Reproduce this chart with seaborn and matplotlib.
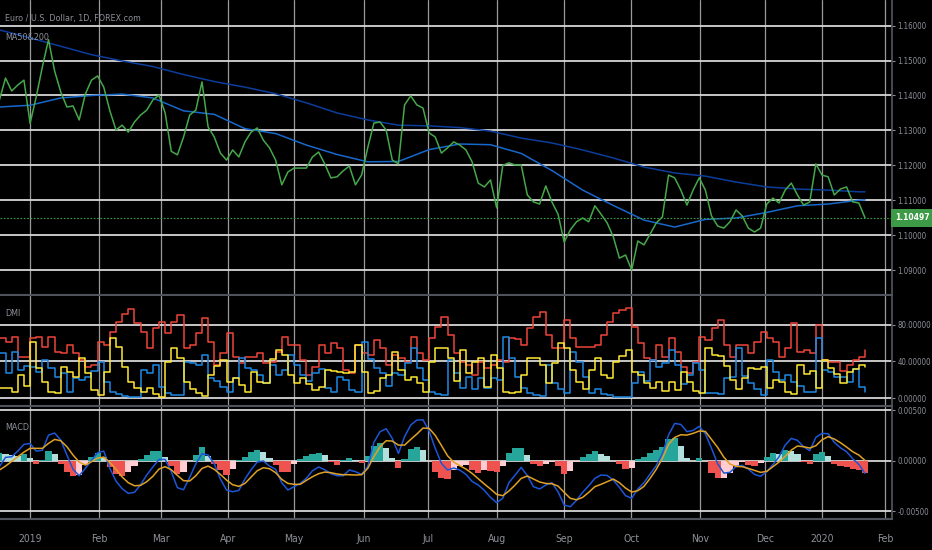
import numpy as np
import matplotlib
matplotlib.use('Agg')
import matplotlib.pyplot as plt
import matplotlib.transforms as mtransforms
from matplotlib import font_manager
import seaborn as sns

# session index (0 = first session of 2019), read every 2 sessions
bars = np.arange(-10, 273, 2)

month_pos = [0, 22.5, 42.7, 64.5, 86, 108.8, 129.6, 152, 174, 195.8, 218.2, 239.4, 258, 278.5]
month_lab = ['2019', 'Feb', 'Mar', 'Apr', 'May', 'Jun', 'Jul', 'Aug', 'Sep', 'Oct', 'Nov', 'Dec', '2020', 'Feb']

close = [1.1387, 1.1450, 1.1413, 1.1430, 1.1444, 1.1320, 1.1396, 1.1482, 1.1560, 1.1470,
         1.1410, 1.1367, 1.1370, 1.1330, 1.1404, 1.1444, 1.1456, 1.1424, 1.1356, 1.1301,
         1.1315, 1.1295, 1.1324, 1.1344, 1.1358, 1.1387, 1.1401, 1.1350, 1.1240, 1.1230,
         1.1281, 1.1344, 1.1358, 1.1439, 1.1310, 1.1281, 1.1235, 1.1215, 1.1244, 1.1224,
         1.1267, 1.1295, 1.1307, 1.1272, 1.1250, 1.1215, 1.1144, 1.1181, 1.1192,
         1.1192, 1.1192, 1.1224, 1.1238, 1.1204, 1.1164, 1.1167, 1.1184, 1.1198, 1.1144,
         1.1172, 1.1250, 1.1321, 1.1324, 1.1301, 1.1215, 1.1204, 1.1373, 1.1399, 1.1373,
         1.1364, 1.1293, 1.1281, 1.1235, 1.1250, 1.1267, 1.1258, 1.1244, 1.1210, 1.1149,
         1.1138, 1.1158, 1.1078, 1.1200, 1.1207, 1.1201, 1.1201, 1.1115, 1.1095, 1.1089,
         1.1141, 1.1095, 1.1060, 1.0980, 1.1015, 1.1038, 1.1049, 1.1038, 1.1084,
         1.1060, 1.1035, 1.0995, 1.0934, 1.0943, 1.0900, 1.0983, 1.0972, 1.1003, 1.1035,
         1.1052, 1.1172, 1.1164, 1.1129, 1.1086, 1.1129, 1.1164, 1.1129, 1.1055, 1.1026,
         1.1020, 1.1038, 1.1072, 1.1055, 1.1020, 1.1009, 1.1020, 1.1089, 1.1106, 1.1092,
         1.1129, 1.1149, 1.1115, 1.1086, 1.1095, 1.1204, 1.1172, 1.1167, 1.1115, 1.1132,
         1.1138, 1.1095, 1.1092, 1.10497]

ma_bars = [-10, 0, 10, 20, 30, 40, 50, 60, 70, 80, 90, 100, 110, 120, 130, 140, 150,
           160, 170, 180, 190, 200, 210, 220, 230, 240, 250, 260, 270, 272]
ma50 = [1.1367, 1.1372, 1.1393, 1.1400, 1.1404, 1.1393, 1.1356, 1.1346, 1.1305, 1.1291,
        1.1258, 1.1231, 1.1210, 1.1211, 1.1245, 1.1261, 1.1259, 1.1234, 1.1185, 1.1129,
        1.1085, 1.1043, 1.1023, 1.1045, 1.1049, 1.1065, 1.1084, 1.1089, 1.1100, 1.1101]
ma200 = [1.1588, 1.1565, 1.1541, 1.1517, 1.1499, 1.1483, 1.1460, 1.1440, 1.1424, 1.1405,
         1.1379, 1.1350, 1.1330, 1.1315, 1.1313, 1.1308, 1.1298, 1.1278, 1.1264, 1.1244,
         1.1221, 1.1195, 1.1178, 1.1169, 1.1152, 1.1138, 1.1132, 1.1129, 1.1124, 1.1124]

adx = [65.1, 61.5, 66.9, 45.1, 45.1, 65.1, 66.9, 56.0, 66.9, 50.6, 48.8, 57.8, 48.8, 41.5,
       34.2, 36.0, 61.5, 57.8, 72.4, 83.3, 91.3, 97.0, 82.0, 72.4, 54.2, 76.0, 83.3, 70.6,
       83.3, 90.6, 54.2, 57.8, 70.6, 86.9, 61.5, 36.0, 48.8, 70.6, 45.1, 37.8, 45.1, 45.1,
       48.8, 37.8, 39.7, 50.6, 66.9, 57.8, 57.8,
       41.5, 25.1, 34.2, 57.8, 48.8, 59.7, 54.2, 30.6, 26.9, 57.8, 48.8, 46.9, 63.3, 54.2,
       36.0, 46.9, 43.3, 39.7, 66.9, 48.8, 41.5, 65.1, 77.9, 88.8, 68.8, 48.8, 39.7, 36.0,
       25.1, 39.7, 32.4, 36.0, 41.5, 39.7, 65.1, 64.4, 57.8, 76.0, 88.8, 94.2, 68.8, 54.2,
       54.2, 85.1, 65.1, 56.0, 56.0, 56.0, 57.8,
       68.8, 83.3, 92.4, 96.0, 98.6, 77.9, 59.7, 43.3, 41.5, 57.8, 45.1, 65.1, 50.6, 34.2,
       26.9, 39.7, 66.9, 63.3, 76.0, 85.1, 57.8, 45.1, 57.8, 57.8, 48.8, 61.5, 72.4, 65.1,
       61.5, 45.1, 54.2, 81.5, 50.6, 52.4, 48.8, 79.7, 41.5, 39.7, 39.7, 29.5, 36.0, 41.5,
       45.1, 52.4]
plus_di = [48.8, 26.9, 49.8, 30.6, 34.9, 34.2, 28.7, 41.5, 32.4, 23.3, 26.9, 6.9, 21.5, 19.6,
           23.3, 29.5, 39.7, 17.1, 6.9, 4.0, 2.2, 1.5, 1.5, 30.6, 26.9, 36.0, 12.4, 5.8,
           3.3, 3.3, 38.9, 37.8, 36.0, 46.9, 21.5, 18.6, 12.4, 6.2, 21.5, 43.3, 32.4, 30.6,
           25.1, 16.0, 36.0, 25.1, 30.6, 46.9, 36.0,
           25.1, 18.6, 26.9, 31.7, 11.3, 6.2, 23.3, 19.6, 8.7, 6.9, 61.5, 42.6, 32.4, 26.9,
           13.5, 26.9, 25.1, 37.8, 54.2, 32.4, 19.6, 6.9, 4.4, 3.3, 41.5, 26.9, 11.3, 23.3,
           9.8, 21.5, 11.3, 21.5, 19.6, 66.9, 43.3, 23.3, 10.5, 5.1, 3.3, 2.2, 36.0, 16.0,
           9.8, 5.1, 50.6, 39.7, 23.3, 5.1, 9.8,
           4.7, 3.3, 1.5, 1.5, 1.5, 16.0, 28.7, 18.6, 41.5, 34.2, 37.8, 52.4, 36.0, 14.9,
           25.1, 37.8, 30.6, 5.8, 5.1, 4.0, 21.5, 23.3, 54.2, 24.4, 16.0, 9.5, 3.3, 41.5,
           28.0, 19.6, 25.1, 17.8, 13.1, 6.9, 6.9, 65.1, 30.6, 28.7, 23.3, 23.3, 17.8, 31.7,
           12.4, 6.9]
minus_di = [10.5, 11.3, 6.2, 25.1, 13.5, 61.5, 32.4, 17.1, 6.9, 5.1, 34.2, 28.7, 23.3, 43.3,
            26.9, 8.7, 3.3, 28.7, 65.1, 56.0, 34.2, 17.8, 11.3, 6.9, 10.5, 4.4, 1.5, 39.7,
            54.2, 43.3, 17.8, 9.8, 5.1, 2.5, 25.1, 35.3, 41.5, 17.8, 21.5, 14.2, 6.2, 28.0,
            17.1, 16.0, 42.6, 52.4, 46.9, 25.1, 16.0,
            21.5, 14.9, 8.7, 12.4, 30.6, 29.5, 28.7, 26.9, 28.7, 57.8, 28.7, 5.8, 8.0, 22.2,
            25.1, 50.6, 30.6, 19.6, 23.3, 16.0, 6.9, 39.7, 54.2, 54.9, 43.3, 18.6, 52.4, 26.9,
            39.7, 43.3, 11.6, 46.9, 32.4, 6.2, 5.1, 6.2, 25.1, 44.0, 43.3, 36.0, 16.0, 37.8,
            59.7, 54.2, 30.6, 17.8, 9.8, 30.6, 43.3,
            25.1, 21.5, 39.7, 46.2, 52.4, 28.7, 25.1, 16.0, 10.5, 17.1, 7.6, 17.8, 8.7, 28.0,
            17.8, 7.6, 5.1, 54.2, 46.9, 45.8, 35.3, 19.6, 9.8, 21.5, 33.1, 31.7, 34.2, 10.5,
            19.6, 17.8, 6.9, 4.0, 36.0, 25.8, 29.5, 10.5, 41.5, 32.4, 26.2, 16.0, 28.7, 31.7,
            36.0, 34.2]

macd = [-0.59e-3, 0.33e-3, 0.39e-3, 0.95e-3, 1.61e-3, 1.70e-3, 0.95e-3, 1.02e-3, 2.53e-3,
        2.73e-3, 2.04e-3, 0.56e-3, -0.85e-3, -1.48e-3, -0.76e-3, 0.03e-3, 0.79e-3, 0.95e-3,
        -0.76e-3, -2.01e-3, -2.76e-3, -3.22e-3, -3.12e-3, -2.37e-3, -1.41e-3, -0.62e-3,
        0.13e-3, 0.13e-3, -1.08e-3, -2.66e-3, -2.86e-3, -1.64e-3, -0.30e-3, 0.69e-3, 0.56e-3,
        -0.30e-3, -1.81e-3, -2.89e-3, -3.06e-3, -2.93e-3, -1.81e-3, -0.89e-3, -0.13e-3,
        -0.03e-3, -0.53e-3, -0.85e-3, -2.17e-3, -2.89e-3, -2.56e-3,
        -2.24e-3, -1.74e-3, -0.99e-3, -0.62e-3, -0.89e-3, -1.28e-3, -1.48e-3, -1.48e-3,
        -0.92e-3, -1.08e-3, -1.35e-3, -0.59e-3, 1.81e-3, 2.86e-3, 3.16e-3, 2.20e-3, 0.72e-3,
        2.37e-3, 3.52e-3, 4.01e-3, 4.04e-3, 2.93e-3, 1.22e-3, -0.26e-3, -0.92e-3, -0.72e-3,
        -0.92e-3, -1.35e-3, -2.04e-3, -2.40e-3, -2.93e-3, -3.62e-3, -4.14e-3, -3.71e-3,
        -2.17e-3, -1.41e-3, -0.66e-3, -1.48e-3, -2.56e-3, -2.79e-3, -2.40e-3, -2.17e-3,
        -3.06e-3, -4.37e-3, -4.54e-3, -3.91e-3, -3.12e-3, -2.47e-3, -1.74e-3,
        -1.41e-3, -1.45e-3, -1.91e-3, -2.63e-3, -3.45e-3, -3.71e-3, -2.79e-3, -2.17e-3,
        -1.31e-3, -0.49e-3, 0.72e-3, 2.53e-3, 3.68e-3, 3.58e-3, 2.86e-3, 2.99e-3, 3.39e-3,
        2.66e-3, 1.22e-3, -0.30e-3, -1.22e-3, -1.15e-3, -0.56e-3, -0.46e-3, -0.82e-3,
        -1.35e-3, -1.54e-3, -1.08e-3, -0.39e-3, 0.39e-3, 1.54e-3, 2.20e-3, 2.01e-3, 1.38e-3,
        0.99e-3, 2.30e-3, 2.70e-3, 2.66e-3, 1.81e-3, 1.28e-3, 0.89e-3, 0.20e-3, -0.36e-3,
        -1.25e-3]
signal = [-0.92e-3, -0.53e-3, -0.07e-3, 0.39e-3, 0.85e-3, 1.22e-3, 1.22e-3, 1.22e-3, 1.71e-3,
          2.10e-3, 1.97e-3, 1.38e-3, 0.56e-3, -0.13e-3, -0.43e-3, -0.10e-3, 0.26e-3, 0.36e-3,
          -0.16e-3, -0.85e-3, -1.61e-3, -2.17e-3, -2.47e-3, -2.43e-3, -2.07e-3, -1.54e-3,
          -0.82e-3, -0.59e-3, -0.89e-3, -1.45e-3, -1.97e-3, -2.00e-3, -1.48e-3, -0.76e-3,
          -0.53e-3, -0.85e-3, -1.35e-3, -1.91e-3, -2.37e-3, -2.53e-3, -2.24e-3, -1.61e-3,
          -0.99e-3, -0.69e-3, -0.79e-3, -1.18e-3, -1.84e-3, -2.24e-3, -2.33e-3,
          -2.33e-3, -1.94e-3, -1.58e-3, -1.28e-3, -1.12e-3, -1.18e-3, -1.31e-3, -1.38e-3,
          -1.38e-3, -1.41e-3, -1.38e-3, -0.76e-3, 0.39e-3, 1.38e-3, 1.97e-3, 1.94e-3, 1.54e-3,
          1.54e-3, 2.10e-3, 2.63e-3, 3.22e-3, 3.19e-3, 2.50e-3, 1.51e-3, 0.49e-3, -0.13e-3,
          -0.49e-3, -0.82e-3, -1.25e-3, -1.78e-3, -2.30e-3, -2.79e-3, -3.32e-3, -3.45e-3,
          -2.99e-3, -2.40e-3, -1.74e-3, -1.51e-3, -1.81e-3, -2.10e-3, -2.24e-3, -2.27e-3,
          -2.50e-3, -3.12e-3, -3.71e-3, -3.85e-3, -3.62e-3, -3.12e-3, -2.56e-3,
          -2.33e-3, -2.07e-3, -1.81e-3, -2.17e-3, -2.70e-3, -3.09e-3, -2.96e-3, -2.53e-3,
          -1.74e-3, -0.85e-3, 0.23e-3, 1.61e-3, 2.30e-3, 2.56e-3, 2.53e-3, 2.70e-3, 2.93e-3,
          2.89e-3, 2.10e-3, 1.31e-3, 0.36e-3, -0.33e-3, -0.56e-3, -0.59e-3, -0.76e-3,
          -0.95e-3, -1.15e-3, -1.05e-3, -0.59e-3, -0.13e-3, 0.43e-3, 1.05e-3, 1.45e-3,
          1.38e-3, 1.25e-3, 1.48e-3, 2.07e-3, 2.37e-3, 2.14e-3, 1.78e-3, 1.35e-3, 0.89e-3,
          0.56e-3, 0.03e-3]
hist = [0.72e-3, 0.66e-3, 0.56e-3, 0.46e-3, 0.69e-3, 0.23e-3, -0.33e-3, 0.07e-3, 0.99e-3,
        0.66e-3, -0.33e-3, -1.08e-3, -1.51e-3, -1.41e-3, -0.46e-3, 0.39e-3, 0.72e-3, 0.39e-3,
        -0.59e-3, -1.35e-3, -1.55e-3, -1.08e-3, -0.49e-3, 0.13e-3, 0.56e-3, 0.95e-3, 0.99e-3,
        0.39e-3, -0.53e-3, -1.35e-3, -1.12e-3, -0.07e-3, 0.59e-3, 1.31e-3, 0.43e-3, -0.30e-3,
        -0.95e-3, -1.41e-3, -0.82e-3, 0.03e-3, 0.36e-3, 0.82e-3, 1.02e-3, 0.89e-3, 0.23e-3,
        -0.46e-3, -1.08e-3, -1.15e-3, -0.36e-3,
        0.16e-3, 0.43e-3, 0.62e-3, 0.72e-3, 0.53e-3, -0.13e-3, -0.43e-3, 0.07e-3, 0.30e-3,
        0.03e-3, -0.23e-3, 0.49e-3, 1.45e-3, 1.78e-3, 1.22e-3, 0.23e-3, -0.76e-3, 0.16e-3,
        1.18e-3, 1.38e-3, 1.02e-3, -0.03e-3, -1.12e-3, -1.68e-3, -1.84e-3, -0.95e-3,
        -0.49e-3, -0.46e-3, -0.95e-3, -1.25e-3, -0.92e-3, -1.02e-3, -1.08e-3, -0.53e-3,
        0.79e-3, 1.22e-3, 1.28e-3, 0.56e-3, -0.30e-3, -0.49e-3, -0.33e-3, -0.13e-3, -0.53e-3,
        -1.35e-3, -1.05e-3, -0.16e-3, 0.36e-3, 0.62e-3, 0.95e-3,
        0.69e-3, 0.46e-3, -0.03e-3, -0.33e-3, -0.79e-3, -0.76e-3, 0.13e-3, 0.39e-3, 0.72e-3,
        1.08e-3, 1.31e-3, 2.10e-3, 2.24e-3, 1.48e-3, 0.23e-3, 0.00e-3, 0.30e-3, -0.03e-3,
        -1.25e-3, -1.74e-3, -1.74e-3, -1.18e-3, -0.53e-3, -0.10e-3, -0.43e-3, -0.53e-3,
        -0.26e-3, 0.33e-3, 0.72e-3, 0.69e-3, 1.02e-3, 0.99e-3, 0.66e-3, -0.13e-3, -0.36e-3,
        0.66e-3, 0.89e-3, 0.49e-3, -0.33e-3, -0.56e-3, -0.59e-3, -0.82e-3, -0.92e-3,
        -1.25e-3]

price_ticks = [1.09, 1.10, 1.11, 1.12, 1.13, 1.14, 1.15, 1.16]
dmi_ticks = [0, 40, 80]
macd_ticks = [-0.005, 0.0, 0.005]

sns.set_theme(style='dark', rc={'axes.facecolor': 'black', 'figure.facecolor': 'black'})

# a narrow face for the scales, if one is installed
prefer = ['liberation sans narrow', 'dejavu sans', 'noto sans', 'open sans', 'roboto']
narrow, best = None, len(prefer) + 1
for f in font_manager.fontManager.ttflist:
    nm = f.name.lower()
    st = f.stretch
    cond = ('narrow' in nm or 'condensed' in nm or
            st in ('condensed', 'semi-condensed', 'extra-condensed', 'ultra-condensed') or
            (isinstance(st, (int, float)) and st < 100))
    if not (cond and f.style == 'normal' and f.weight in (400, 'normal', 'regular', 'book')):
        continue
    rank = next((i for i, p in enumerate(prefer) if nm.startswith(p)), len(prefer))
    if rank < best:
        narrow, best = f, rank
if narrow is not None:
    plt.rcParams['font.family'] = [narrow.name, 'DejaVu Sans']
    plt.rcParams['font.stretch'] = narrow.stretch
    tick_fs, cap_fs, x_fs = 5.7, 6.4, 7.5
else:
    plt.rcParams['font.family'] = ['Liberation Sans', 'DejaVu Sans']
    tick_fs, cap_fs, x_fs = 5.6, 6.2, 7

W, H = 932, 550
fig = plt.figure(figsize=(W / 100, H / 100), dpi=100)
ax_p = fig.add_axes([0, 1 - 295 / H, 892 / W, 295 / H])
ax_d = fig.add_axes([0, 1 - 406 / H, 892 / W, 110 / H])
ax_m = fig.add_axes([0, 1 - 519 / H, 892 / W, 112 / H])

label_col = '#8e9199'
for ax in (ax_p, ax_d, ax_m):
    ax.set_facecolor('black')
    ax.set_axisbelow(True)
    ax.set_xlim(-9.8, 280.8)
    ax.set_xticks(month_pos)
    ax.yaxis.tick_right()
    ax.yaxis.grid(True, color='#d6d6d6', lw=1.3)
    ax.xaxis.grid(True, color='#9a9a9a', lw=0.9)
    ax.tick_params(axis='y', right=True, colors=label_col, labelsize=tick_fs, length=2.5,
                   pad=1.5, width=0.8)
    ax.tick_params(axis='x', length=0)
    for s in ('left', 'top'):
        ax.spines[s].set_visible(False)
    ax.spines['right'].set_color('#50535c')
    ax.spines['bottom'].set_color('#50535c')
    ax.spines['bottom'].set_linewidth(1.5)

# price panel
sns.lineplot(x=ma_bars, y=ma200, ax=ax_p, color='#0c3d9c', linewidth=1.1, estimator=None)
sns.lineplot(x=ma_bars, y=ma50, ax=ax_p, color='#1868cc', linewidth=1.1, estimator=None)
sns.lineplot(x=bars, y=close, ax=ax_p, color='#45a84a', linewidth=1.1, estimator=None)
ax_p.axhline(close[-1], color='#3d9a47', lw=0.8, ls=(0, (1.5, 1.5)))
ax_p.set_ylim(1.08284, 1.16736)
ax_p.set_yticks(price_ticks, [f'{v:.5f}' for v in price_ticks])
ax_p.tick_params(axis='x', labelbottom=False)
trans = mtransforms.blended_transform_factory(ax_p.transAxes, ax_p.transData)
ax_p.text(1.004, close[-1], f'{close[-1]:.5f}', transform=trans, ha='left', va='center',
          color='white', fontsize=tick_fs + 0.4, fontweight='bold',
          bbox=dict(boxstyle='square,pad=0.55', fc='#3d9a47', ec='none'))

# DMI panel
sns.lineplot(x=bars, y=adx, ax=ax_d, color='#f0453a', linewidth=1.1, estimator=None,
             drawstyle='steps-post')
sns.lineplot(x=bars, y=plus_di, ax=ax_d, color='#1e88e5', linewidth=1.1, estimator=None,
             drawstyle='steps-post')
sns.lineplot(x=bars, y=minus_di, ax=ax_d, color='#ffe933', linewidth=1.1, estimator=None,
             drawstyle='steps-post')
ax_d.set_ylim(-8.7, 111.3)
ax_d.set_yticks(dmi_ticks, [f'{v:.5f}' for v in dmi_ticks])
ax_d.tick_params(axis='x', labelbottom=False)

# MACD panel
h = np.array(hist)
prev = np.r_[h[0], h[:-1]]
hist_cols = np.where(h >= 0, np.where(h >= prev, '#26a69a', '#b2dfdb'),
                     np.where(h < prev, '#ef5350', '#ffcdd2'))
ax_m.bar(bars, h, width=2.0, color=hist_cols, linewidth=0, zorder=2)
sns.lineplot(x=bars, y=macd, ax=ax_m, color='#1d56d6', linewidth=1.1, estimator=None, zorder=3)
sns.lineplot(x=bars, y=signal, ax=ax_m, color='#e0a126', linewidth=1.1, estimator=None, zorder=3)
ax_m.set_ylim(-0.00575, 0.0053)
ax_m.set_yticks(macd_ticks, [f'{v:.5f}' for v in macd_ticks])
ax_m.set_xticks(month_pos, month_lab)
ax_m.tick_params(axis='x', colors=label_col, labelsize=x_fs, pad=11)
for ax in (ax_p, ax_d, ax_m):
    ax.set_xlabel('')
    ax.set_ylabel('')

# panel captions
fig.text(5 / W, 1 - 18 / H, 'Euro / U.S. Dollar, 1D, FOREX.com', color=label_col, fontsize=cap_fs, va='center')
fig.text(5 / W, 1 - 38 / H, 'MA50&200', color=label_col, fontsize=cap_fs, va='center')
fig.text(5 / W, 1 - 314 / H, 'DMI', color=label_col, fontsize=cap_fs, va='center')
fig.text(5 / W, 1 - 427 / H, 'MACD', color=label_col, fontsize=cap_fs, va='center')

fig.savefig('out.png', dpi=100, facecolor='black')
